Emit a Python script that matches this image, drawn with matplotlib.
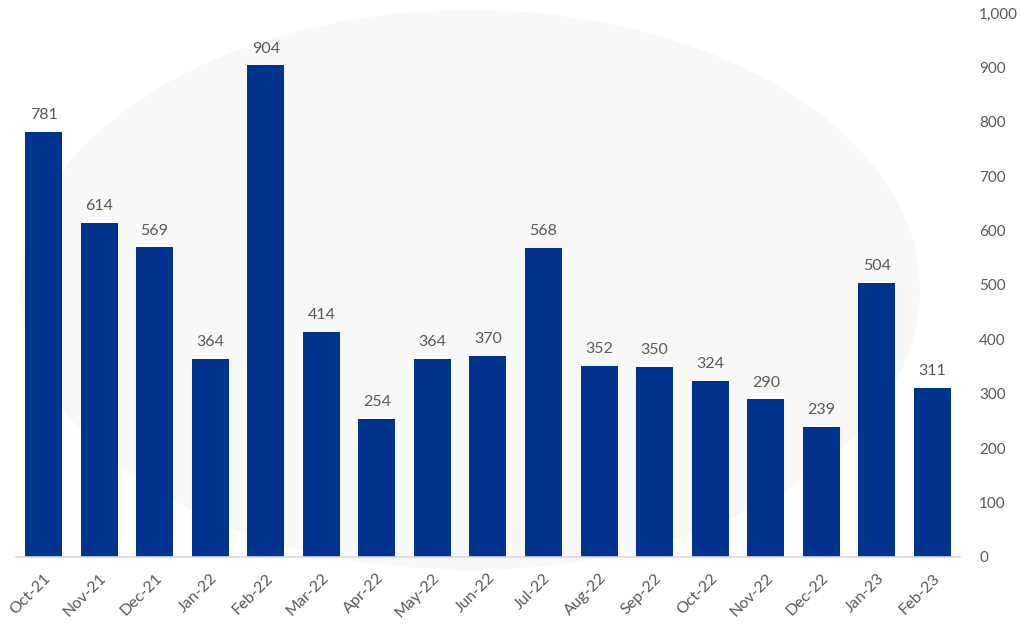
import numpy as np
import matplotlib.pyplot as plt
from matplotlib.patches import Ellipse
from matplotlib.ticker import FuncFormatter

months = ["Oct-21", "Nov-21", "Dec-21", "Jan-22", "Feb-22", "Mar-22", "Apr-22",
          "May-22", "Jun-22", "Jul-22", "Aug-22", "Sep-22", "Oct-22", "Nov-22",
          "Dec-22", "Jan-23", "Feb-23"]
counts = [781, 614, 569, 364, 904, 414, 254, 364, 370, 568, 352, 350, 324, 290,
          239, 504, 311]
yticks = [0, 100, 200, 300, 400, 500, 600, 700, 800, 900, 1000]

bar_color = '#00338d'
text_color = '#595959'
plt.rcParams['font.family'] = ['Lato', 'DejaVu Sans']

fig = plt.figure(figsize=(10.21, 6.25), dpi=100)

# faint background logo
bg = fig.add_axes([0, 0, 1, 1], zorder=0)
bg.set_xlim(0, 1021)
bg.set_ylim(625, 0)
bg.axis('off')
bg.add_patch(Ellipse((470, 290), 900, 560, color='#f8f8f8', lw=0))

ax = fig.add_axes([0.0154, 0.1088, 0.9251, 0.8704], zorder=1)
ax.patch.set_alpha(0)

x = np.arange(len(months))
bars = ax.bar(x, counts, width=0.666, color=bar_color, zorder=2)
for xi, v in zip(x, counts):
    ax.annotate(f"{v:,}", (xi, v), xytext=(0, 7), textcoords='offset points',
                ha='center', va='bottom', fontsize=11.5, color=text_color)

ax.set_xlim(-0.5, len(months) - 0.5)
ax.set_ylim(0, 1000)
ax.set_yticks(yticks)
ax.yaxis.set_major_formatter(FuncFormatter(lambda v, p: f"{int(v):,}"))
ax.yaxis.tick_right()
ax.tick_params(axis='y', length=0, pad=13.5, labelsize=11, labelcolor=text_color)
for lab in ax.get_yticklabels():
    lab.set_horizontalalignment('left')

ax.set_xticks(x)
ax.set_xticklabels(months, rotation=45, ha='right', rotation_mode='anchor')
ax.tick_params(axis='x', length=0, pad=10, labelsize=11.5, labelcolor=text_color)

for s in ['top', 'left', 'right']:
    ax.spines[s].set_visible(False)
ax.spines['bottom'].set_color('#d9d9d9')
ax.spines['bottom'].set_linewidth(1.2)

fig.savefig('out.png', dpi=100)
